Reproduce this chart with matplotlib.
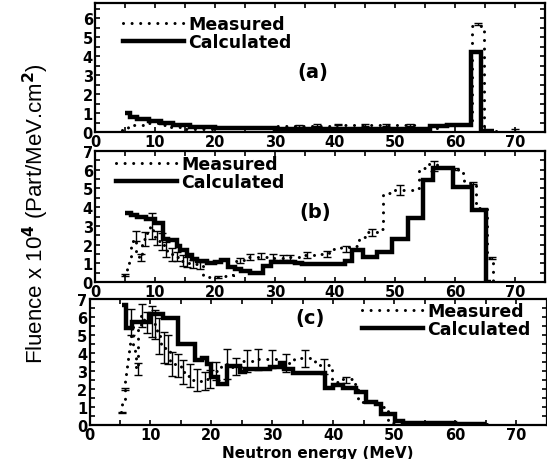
import matplotlib
matplotlib.use('Agg')
import matplotlib.pyplot as plt
from matplotlib.lines import Line2D
from matplotlib.ticker import MultipleLocator

plt.rcParams['font.family'] = ['DejaVu Sans']
plt.rcParams['font.weight'] = 'bold'

# ---- panel (a) ----
a_calc_edges = [5.0, 5.8, 7, 9, 11, 13, 15.8, 20, 30, 40, 45, 55.8, 58.6, 62.7, 64.3, 66.5]
a_calc_vals = [1.0, 0.77, 0.68, 0.58, 0.48, 0.36, 0.25, 0.2, 0.18, 0.15, 0.18, 0.3, 0.38, 4.2, 0.03]
a_meas_edges = [4.5, 5.5, 6.5, 8.5, 10.5, 12.5, 14.5, 20, 25, 30, 35, 40, 45, 50, 54, 57.5, 62.8, 64.9, 67]
a_meas_vals = [0.1, 0.3, 0.38, 0.45, 0.38, 0.25, 0.18, 0.22, 0.27, 0.3, 0.33, 0.38, 0.38, 0.35, 0.22, 0.35, 5.6, 0.05]
a_err_x = [34, 37, 40.5, 45, 48.5, 52.5, 63.8, 70]
a_err_y = [0.32, 0.36, 0.4, 0.38, 0.38, 0.36, 5.7, 0.08]
a_err_e = [0.04, 0.04, 0.04, 0.04, 0.04, 0.04, 0.04, 0.06]

# ---- panel (b) ----
b_calc_edges = [5, 6, 7, 8.5, 10, 11.3, 12.2, 13.6, 14.2, 15.3, 16.1, 17, 18.7, 20, 21, 22.2,
                23.3, 24.4, 25.8, 28, 29.4, 33.3, 34.5, 41.7, 42.8, 44.7, 47, 49.5, 52.2, 54.7,
                56.4, 59.6, 62.8, 65.2, 66]
b_calc_vals = [3.7, 3.6, 3.5, 3.35, 3.15, 2.3, 2.25, 1.95, 1.7, 1.45, 1.25, 1.12, 1.0, 1.05, 1.15,
               0.8, 0.7, 0.6, 0.47, 0.86, 1.08, 1.0, 0.95, 1.13, 1.72, 1.31, 1.6, 2.3, 3.4, 5.45,
               6.1, 5.08, 3.86, 0.0]
b_meas_edges = [4.8, 5.3, 5.6, 6.0, 6.4, 6.9, 7.3, 7.8, 8.2, 8.7, 9.1, 9.6, 10.0, 10.5, 11.0,
                11.5, 12.0, 12.5, 13.0, 13.5, 14.0, 14.5, 15.0, 15.5, 16.0, 17.0, 18.0, 19.0,
                20.0, 21.0, 22.0, 23.0, 24.0, 25.0, 26.5, 28.0, 29.5, 31.0, 32.5, 34.0, 36.5,
                39.0, 41.0, 43.0, 44.0, 45.0, 47.0, 48.0, 49.5, 51.0, 53.0, 54.0, 55.0, 57.0,
                59.5, 60.5, 61.5, 62.5, 63.5, 65.3, 66.3, 67.0]
b_meas_vals = [0.36, 0.77, 1.1, 2.0, 2.3, 1.6, 1.3, 2.1, 2.3, 2.6, 3.0, 2.7, 2.4, 2.2,
               2.0, 1.8, 1.6, 1.5, 1.4, 1.35, 1.2, 1.1, 1.05, 1.0, 0.95, 0.9, 0.35, 0.28,
               0.28, 0.3, 0.35, 1.1, 1.15, 1.35, 1.35, 1.35, 1.3, 1.3, 1.35, 1.45, 1.5,
               1.75, 1.85, 1.9, 2.4, 2.65, 2.85, 4.75, 4.9, 4.9, 5.0, 6.1, 6.3, 6.1,
               6.05, 5.8, 5.4, 5.3, 3.95, 1.3, 0.0]
b_err_x = [5.0, 6.8, 7.6, 8.4, 9.5, 10.3, 11.1, 11.9, 12.9, 13.7, 14.6, 15.4, 16.4, 17.5, 20.5,
           24.2, 25.8, 27.7, 29.7, 31.4, 32.5, 35.3, 38.6, 41.9, 46.1, 50.8, 56.5, 60.0, 63.0, 66.1]
b_err_y = [0.36, 2.45, 1.32, 2.3, 3.0, 2.35, 2.15, 1.75, 1.45, 1.35, 1.15, 1.07, 0.97, 0.9, 0.28,
           1.15, 1.35, 1.4, 1.35, 1.3, 1.3, 1.45, 1.5, 1.75, 2.65, 4.92, 6.2, 6.05, 5.3, 1.3]
b_err_e = [0.05, 0.25, 0.2, 0.35, 0.7, 0.35, 0.45, 0.4, 0.35, 0.25, 0.3, 0.28, 0.2, 0.18, 0.05,
           0.15, 0.15, 0.15, 0.15, 0.15, 0.12, 0.15, 0.15, 0.15, 0.18, 0.25, 0.25, 0.05, 0.05, 0.05]

# ---- panel (c) ----
c_calc_edges = [5.3, 6.0, 7.0, 10.0, 12.0, 14.6, 17.3, 18.5, 19.3, 20.0, 21.1, 22.5, 24.7, 25.5,
                29.6, 31.2, 32.0, 33.4, 38.6, 40.0, 41.6, 43.8, 45.4, 47.1, 47.9, 50.1, 51.4,
                60.0, 65.0]
c_calc_vals = [6.67, 5.4, 5.75, 6.15, 5.95, 4.5, 3.6, 3.75, 3.4, 2.66, 2.3, 3.3, 2.95, 3.13,
               3.2, 3.46, 3.1, 2.9, 2.07, 2.2, 2.07, 1.85, 1.26, 1.16, 0.6, 0.25, 0.12, 0.05]
c_meas_edges = [5.1, 5.4, 5.6, 5.75, 5.9, 6.05, 6.2, 6.4, 6.55, 6.7, 6.85, 7.0, 7.2, 7.45, 7.7,
                8.0, 8.5, 9.0, 9.5, 10.0, 10.5, 11.0, 11.7, 12.5, 13.2, 14.0, 15.0, 16.0, 17.0,
                18.2, 19.3, 20.3, 21.5, 23.3, 25.0, 26.8, 28.8, 31.0, 33.5, 37.0, 39.8, 41.0,
                43.0, 44.0, 46.5, 48.0, 49.0, 55.0, 66.0]
c_meas_vals = [0.71, 1.17, 1.45, 2.0, 2.5, 2.9, 3.3, 3.7, 4.1, 4.55, 5.1, 5.6, 4.25, 3.85,
               3.1, 5.5, 6.1, 5.7, 5.8, 5.75, 5.6, 4.95, 4.3, 4.2, 3.4, 3.3, 2.95, 2.75,
               2.5, 2.45, 2.55, 3.0, 3.4, 3.25, 3.55, 3.65, 3.65, 3.45, 3.7, 3.35, 2.4,
               2.55, 2.3, 1.3, 1.17, 0.98, 0.1, 0.05]
c_err_x = [5.3, 5.8, 6.75, 7.9, 8.66, 9.48, 10.2, 10.7, 11.45, 12.3, 12.9, 13.6, 14.6, 15.4,
           16.5, 17.7, 18.9, 19.75, 20.8, 22.5, 24.1, 25.8, 27.7, 29.9, 32.3, 35.3, 38.5, 42.1]
c_err_y = [0.71, 2.0, 5.7, 3.1, 6.1, 5.7, 5.75, 5.6, 4.95, 4.3, 4.2, 3.4, 3.3, 2.95, 2.75,
           2.5, 2.45, 2.55, 3.0, 3.4, 3.25, 3.55, 3.65, 3.65, 3.45, 3.7, 3.25, 2.5]
c_err_e = [0.03, 0.05, 0.72, 0.33, 0.65, 0.6, 0.85, 0.8, 0.98, 0.88, 0.8, 0.65, 0.66, 0.65,
           0.65, 0.6, 0.52, 0.52, 0.51, 0.82, 0.45, 0.6, 0.6, 0.51, 0.52, 0.47, 0.42, 0.18]

W, H = 547, 460
fig = plt.figure(figsize=(W / 100, H / 100), dpi=100)

def box(left, top, right, bottom):
    return [left / W, 1 - bottom / H, (right - left) / W, (bottom - top) / H]

meas_ls = (0, (0.01, 2.8))
meas_lw = 2.2
calc_lw = 3.2

panels = [
    dict(pos=box(95, 4, 545, 133), ylim=6.8, calc=(a_calc_vals, a_calc_edges),
         meas=(a_meas_vals, a_meas_edges), err=(a_err_x, a_err_y, a_err_e),
         tag='(a)', tagxy=(0.484, 0.47), leg=(0.062, 0.91)),
    dict(pos=box(95, 152, 545, 283), ylim=7, calc=(b_calc_vals, b_calc_edges),
         meas=(b_meas_vals, b_meas_edges), err=(b_err_x, b_err_y, b_err_e),
         tag='(b)', tagxy=(0.49, 0.54), leg=(0.047, 0.97)),
    dict(pos=box(89.5, 300, 546.5, 426), ylim=7, calc=(c_calc_vals, c_calc_edges),
         meas=(c_meas_vals, c_meas_edges), err=(c_err_x, c_err_y, c_err_e),
         tag='(c)', tagxy=(0.482, 0.85), leg=(0.596, 0.975)),
]

for p in panels:
    ax = fig.add_axes(p['pos'])
    v, e = p['calc']
    ax.stairs(v, e, baseline=None, color='k', lw=calc_lw)
    v, e = p['meas']
    sp = ax.stairs(v, e, baseline=None, color='k', lw=meas_lw, linestyle=meas_ls)
    sp.set_capstyle('round')
    ex, ey, ee = p['err']
    ax.errorbar(ex, ey, yerr=ee, fmt='none', ecolor='k', elinewidth=1.0,
                capsize=3, capthick=1.0)
    ax.set_xlim(0, 75)
    ax.set_ylim(0, p['ylim'])
    ax.xaxis.set_major_locator(MultipleLocator(10))
    ax.xaxis.set_minor_locator(MultipleLocator(5))
    ax.yaxis.set_major_locator(MultipleLocator(1))
    ax.yaxis.set_minor_locator(MultipleLocator(0.5))
    ax.tick_params(which='both', direction='in', top=True, right=True,
                   length=3.5, width=1.2, labelsize=10.5, pad=1.5)
    for s in ax.spines.values():
        s.set_linewidth(1.6)
    ax.text(*p['tagxy'], p['tag'], transform=ax.transAxes, fontsize=14,
            fontweight='bold', ha='center', va='center')
    handles = [Line2D([], [], color='k', lw=meas_lw, linestyle=meas_ls, dash_capstyle='round'),
               Line2D([], [], color='k', lw=calc_lw)]
    ax.legend(handles, ['Measured', 'Calculated'], loc='upper left',
              bbox_to_anchor=p['leg'], frameon=False,
              borderaxespad=0, borderpad=0, labelspacing=0,
              handlelength=3.5, handletextpad=0.25,
              prop={'weight': 'bold', 'size': 12.5})
    last = ax

last.set_xlabel('Neutron energy (MeV)', fontsize=11, fontweight='bold', labelpad=2)

fig.text(0.066, 0.535, 'Fluence x 10$^4$ (Part/MeV.cm$^2$)', rotation=90,
         ha='center', va='center', fontsize=16, fontweight='normal',
         family=['Liberation Sans'])

fig.savefig('out.png', dpi=100)
